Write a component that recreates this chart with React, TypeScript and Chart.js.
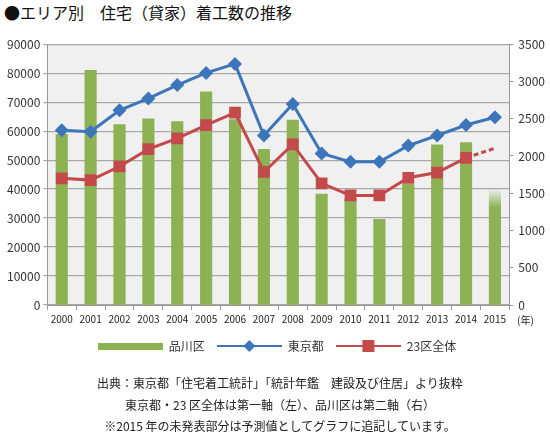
import { useEffect, useRef } from "react";
import { Chart, registerables } from "chart.js";

Chart.register(...registerables);

const FONT = "'Noto Sans CJK JP', 'Noto Sans', sans-serif";

const years = ["2000", "2001", "2002", "2003", "2004", "2005", "2006", "2007", "2008", "2009", "2010", "2011", "2012", "2013", "2014", "2015"];
// 品川区 (右軸)
const shinagawa = [2290, 3150, 2420, 2500, 2460, 2860, 2490, 2090, 2480, 1490, 1430, 1150, 1620, 2150, 2180, 1550];
// 東京都 (左軸)
const tokyo = [60300, 59800, 67200, 71300, 75900, 80100, 83200, 58500, 69400, 52300, 49400, 49400, 55000, 58500, 62100, 64800];
// 23区全体 (左軸)
const ku23 = [43700, 43100, 47800, 53800, 57500, 62100, 66400, 45900, 55400, 42000, 37800, 37800, 43900, 45700, 50800, 54100];

const GREEN = "#8db254";
const BLUE = "#3d75bb";
const RED = "#c4494a";

// 凡例用の小さな画像
const makeIcon = (kind: "bar" | "diamond" | "square") => {
    const c = document.createElement("canvas");
    c.width = 65;
    c.height = 14;
    const g = c.getContext("2d")!;
    if (kind === "bar") {
        g.fillStyle = GREEN;
        g.fillRect(0, 4, 65, 7);
        return c;
    }
    const col = kind === "diamond" ? BLUE : RED;
    g.strokeStyle = col;
    g.lineWidth = 2;
    g.beginPath();
    g.moveTo(0, 7);
    g.lineTo(65, 7);
    g.stroke();
    g.fillStyle = col;
    if (kind === "diamond") {
        g.beginPath();
        g.moveTo(32.5, 1);
        g.lineTo(38.5, 7);
        g.lineTo(32.5, 13);
        g.lineTo(26.5, 7);
        g.closePath();
        g.fill();
    } else {
        g.fillRect(26.5, 1, 12, 12);
    }
    return c;
};

const plotBg = {
    id: "plotBg",
    beforeDraw(chart: Chart) {
        const { ctx, chartArea } = chart;
        if (!chartArea) return;
        ctx.save();
        ctx.fillStyle = "#f0f0f0";
        ctx.fillRect(chartArea.left, chartArea.top, chartArea.width, chartArea.height);
        ctx.restore();
    },
};

const HousingChart = () => {
    const chartRef = useRef<HTMLCanvasElement | null>(null);
    const chartInstanceRef = useRef<Chart | null>(null);

    useEffect(() => {
        document.body.style.margin = "0";
        if (!chartRef.current) return;
        const ctx = chartRef.current.getContext("2d");
        if (!ctx) return;
        if (chartInstanceRef.current) chartInstanceRef.current.destroy();

        const icons = [makeIcon("bar"), makeIcon("diamond"), makeIcon("square")];

        chartInstanceRef.current = new Chart(ctx, {
            type: "bar",
            data: {
                labels: years,
                datasets: [
                    {
                        type: "bar",
                        label: "品川区",
                        data: shinagawa,
                        yAxisID: "y1",
                        order: 3,
                        barThickness: 11.5,
                        backgroundColor: (c: any) => {
                            if (c.dataIndex !== years.length - 1) return GREEN;
                            const s = c.chart.scales?.y1;
                            if (!s) return GREEN;
                            // 2015年は予測値なので上部をぼかす
                            const top = s.getPixelForValue(shinagawa[years.length - 1]);
                            const gr = c.chart.ctx.createLinearGradient(0, top, 0, top + 18);
                            gr.addColorStop(0, "rgba(141,178,84,0.05)");
                            gr.addColorStop(1, GREEN);
                            return gr;
                        },
                    },
                    {
                        type: "line",
                        label: "東京都",
                        data: tokyo,
                        yAxisID: "y",
                        order: 1,
                        borderColor: BLUE,
                        backgroundColor: BLUE,
                        borderWidth: 3,
                        tension: 0,
                        pointStyle: "rectRot",
                        pointRadius: 7,
                        pointBorderWidth: 0,
                    },
                    {
                        type: "line",
                        label: "23区全体",
                        data: ku23,
                        yAxisID: "y",
                        order: 2,
                        borderColor: RED,
                        backgroundColor: RED,
                        borderWidth: 3,
                        tension: 0,
                        pointStyle: "rect",
                        pointRadius: ku23.map((_, i) => (i === ku23.length - 1 ? 0 : 8.3)),
                        pointBorderWidth: 0,
                        segment: {
                            borderDash: (s: any) => (s.p1DataIndex === ku23.length - 1 ? [5, 3] : undefined),
                        },
                    },
                ],
            },
            options: {
                responsive: true,
                maintainAspectRatio: false,
                animation: false,
                layout: { padding: { left: 4, right: 0, top: 6, bottom: 0 } },
                plugins: {
                    tooltip: { enabled: false },
                    legend: {
                        position: "bottom",
                        labels: {
                            usePointStyle: true,
                            pointStyleWidth: 65,
                            padding: 12,
                            color: "#333",
                            font: { size: 12, family: FONT },
                            generateLabels: (chart: Chart) =>
                                chart.data.datasets.map((d, i) => ({
                                    text: d.label as string,
                                    pointStyle: icons[i],
                                    fillStyle: "transparent",
                                    strokeStyle: "transparent",
                                    lineWidth: 0,
                                    hidden: false,
                                    datasetIndex: i,
                                    fontColor: "#333",
                                })),
                        },
                    },
                },
                scales: {
                    x: {
                        offset: true,
                        grid: {
                            offset: true,
                            drawOnChartArea: false,
                            tickLength: 5,
                            color: "#999",
                        },
                        border: { color: "#999" },
                        ticks: {
                            color: "#222",
                            maxRotation: 0,
                            autoSkip: false,
                            padding: 3,
                            font: { size: 10, family: FONT },
                        },
                    },
                    y: {
                        position: "left",
                        min: 0,
                        max: 90000,
                        ticks: {
                            stepSize: 10000,
                            color: "#333",
                            padding: 3,
                            font: { size: 12, family: FONT },
                            callback: (v: any) => String(v),
                        },
                        grid: { color: "#a8a8a8", lineWidth: 1.2, tickLength: 4 },
                        border: { color: "#999" },
                    },
                    y1: {
                        position: "right",
                        min: 0,
                        max: 3500,
                        ticks: {
                            stepSize: 500,
                            color: "#333",
                            padding: 5,
                            font: { size: 12, family: FONT },
                            callback: (v: any) => String(v),
                        },
                        grid: { drawOnChartArea: false, tickLength: 4, color: "#999" },
                        border: { color: "#999" },
                    },
                },
            },
            plugins: [plotBg],
        } as any);

        return () => {
            if (chartInstanceRef.current) {
                chartInstanceRef.current.destroy();
                chartInstanceRef.current = null;
            }
        };
    }, []);

    return (
        <div style={{ position: "absolute", left: 0, top: 32, width: 550, height: 330 }}>
            <canvas ref={chartRef} />
        </div>
    );
};

export default function App() {
    return (
        <div style={{ position: "fixed", left: 0, top: 0, width: 550, height: 433, background: "#fff", fontFamily: FONT, color: "#111" }}>
            <div style={{ position: "absolute", left: 4, top: 1, fontSize: 16, lineHeight: "22px", whiteSpace: "nowrap" }}>
                ●エリア別　住宅（貸家）着工数の推移
            </div>
            <HousingChart />
            <div style={{ position: "absolute", left: 517, top: 312, fontSize: 10, color: "#222" }}>(年)</div>
            <div
                style={{
                    position: "absolute",
                    left: 0,
                    top: 372,
                    width: 560,
                    textAlign: "center",
                    fontSize: 12,
                    lineHeight: "21.5px",
                    color: "#222",
                    whiteSpace: "nowrap",
                }}
            >
                <div>出典：東京都「住宅着工統計」「統計年鑑　建設及び住居」より抜粋</div>
                <div>東京都・23 区全体は第一軸（左）、品川区は第二軸（右）</div>
                <div>※2015 年の未発表部分は予測値としてグラフに追記しています。</div>
            </div>
        </div>
    );
}
